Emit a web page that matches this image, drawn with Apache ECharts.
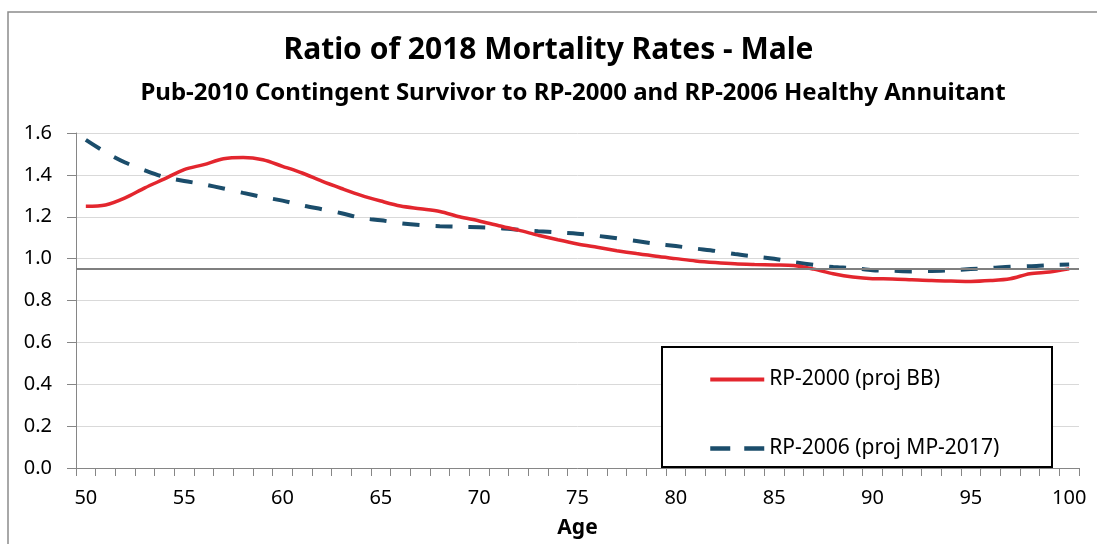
<!DOCTYPE html>
<html>
<head>
<meta charset="utf-8">
<script src="https://cdn.jsdelivr.net/npm/echarts@6/dist/echarts.min.js"></script>
<style>
  html, body { margin: 0; padding: 0; background: #fff; }
  #main { width: 1097px; height: 544px; }
</style>
</head>
<body>
<div id="main"></div>
<script>
// ages on the x axis
var ages = [50, 51, 52, 53, 54, 55, 56, 57, 58, 59,
            60, 61, 62, 63, 64, 65, 66, 67, 68, 69,
            70, 71, 72, 73, 74, 75, 76, 77, 78, 79,
            80, 81, 82, 83, 84, 85, 86, 87, 88, 89,
            90, 91, 92, 93, 94, 95, 96, 97, 98, 99, 100];

// RP-2000 (proj BB)
var rp2000 = [1.25, 1.256, 1.29, 1.338, 1.381, 1.425, 1.449, 1.477, 1.483, 1.472,
              1.441, 1.409, 1.37, 1.335, 1.302, 1.275, 1.251, 1.238, 1.225, 1.2,
              1.18, 1.157, 1.136, 1.112, 1.09, 1.07, 1.054, 1.038, 1.024, 1.011,
              1.0, 0.989, 0.981, 0.975, 0.972, 0.97, 0.967, 0.95, 0.928, 0.912,
              0.904, 0.903, 0.899, 0.895, 0.893, 0.891, 0.895, 0.904, 0.928, 0.936, 0.951];

// RP-2006 (proj MP-2017)
var rp2006 = [1.567, 1.508, 1.459, 1.422, 1.39, 1.371, 1.355, 1.335, 1.314, 1.294,
              1.277, 1.254, 1.236, 1.217, 1.194, 1.183, 1.169, 1.16, 1.155, 1.152,
              1.15, 1.146, 1.138, 1.131, 1.125, 1.119, 1.109, 1.097, 1.084, 1.071,
              1.06, 1.048, 1.037, 1.022, 1.01, 0.999, 0.983, 0.97, 0.96, 0.955,
              0.945, 0.942, 0.939, 0.941, 0.944, 0.95, 0.955, 0.961, 0.964, 0.969, 0.972];

var refLevel = 0.95;
var yTicks = [0, 1.6, 0.2]; // min, max, interval

var font = '"Noto Sans", sans-serif';
var red = '#e3262e';
var blue = '#1b4d6b';

var chart = echarts.init(document.getElementById('main'));

var option = {
  backgroundColor: '#fff',
  animation: false,
  textStyle: { fontFamily: font },
  title: {
    text: 'Ratio of 2018 Mortality Rates - Male',
    left: 'center',
    top: 30,
    textStyle: { fontSize: 30, fontWeight: 'bold', color: '#000', fontFamily: font }
  },
  graphic: [
    {
      // chart frame
      type: 'rect',
      shape: { x: 8, y: 12, width: 1200, height: 700 },
      style: { fill: 'none', stroke: '#8c8c8c', lineWidth: 1.5 },
      z: 0
    },
    {
      type: 'text',
      x: 573,
      y: 93,
      style: {
        text: 'Pub-2010 Contingent Survivor to RP-2000 and RP-2006 Healthy Annuitant',
        font: 'bold 24px ' + font,
        fill: '#000',
        align: 'center',
        verticalAlign: 'middle'
      },
      z: 10
    },
    {
      // legend box
      type: 'rect',
      shape: { x: 662, y: 347, width: 390, height: 120 },
      style: { fill: '#fff', stroke: '#000', lineWidth: 2 },
      z: 3
    }
  ],
  legend: {
    orient: 'vertical',
    left: 662,
    top: 347,
    padding: [22, 20, 22, 46],
    itemWidth: 54,
    itemHeight: 14,
    itemGap: 48,
    z: 4,
    itemStyle: { opacity: 0 },
    textStyle: { fontSize: 21, color: '#000', fontFamily: font },
    data: [
      { name: 'RP-2000 (proj BB)', lineStyle: { width: 4, color: red } },
      { name: 'RP-2006 (proj MP-2017)', lineStyle: { width: 4.5, color: blue, type: [20, 14] } }
    ]
  },
  grid: {
    left: 76,
    right: 18,
    top: 133,
    bottom: 72.5
  },
  xAxis: {
    type: 'category',
    data: ages,
    boundaryGap: true,
    name: 'Age',
    nameLocation: 'middle',
    nameGap: 50,
    nameTextStyle: { fontSize: 21, fontWeight: 'bold', color: '#000' },
    axisLine: { lineStyle: { color: '#868686', width: 1 } },
    axisTick: { show: true, interval: 0, length: 8, lineStyle: { color: '#868686' } },
    axisLabel: { interval: 4, fontSize: 20, color: '#000', margin: 20 },
    splitLine: { show: false }
  },
  yAxis: {
    type: 'value',
    min: yTicks[0],
    max: yTicks[1],
    interval: yTicks[2],
    axisLine: { show: true, lineStyle: { color: '#868686', width: 1 } },
    axisTick: { show: true, length: 9, lineStyle: { color: '#868686' } },
    axisLabel: {
      fontSize: 20,
      color: '#000',
      margin: 24,
      formatter: function (v) { return v.toFixed(1); }
    },
    splitLine: { lineStyle: { color: '#d9d9d9', width: 1 } }
  },
  series: [
    {
      name: 'RP-2000 (proj BB)',
      type: 'line',
      data: rp2000,
      smooth: 0.3,
      symbol: 'none',
      color: red,
      lineStyle: { color: red, width: 3.5 },
      z: 3,
      markLine: {
        silent: true,
        symbol: 'none',
        label: { show: false },
        lineStyle: { color: '#7f7f7f', width: 2, type: 'solid' },
        data: [{ yAxis: refLevel }]
      }
    },
    {
      name: 'RP-2006 (proj MP-2017)',
      type: 'line',
      data: rp2006,
      smooth: 0.3,
      symbol: 'none',
      color: blue,
      lineStyle: { color: blue, width: 4, type: [17, 16] },
      z: 2
    }
  ]
};

chart.setOption(option);
</script>
</body>
</html>
